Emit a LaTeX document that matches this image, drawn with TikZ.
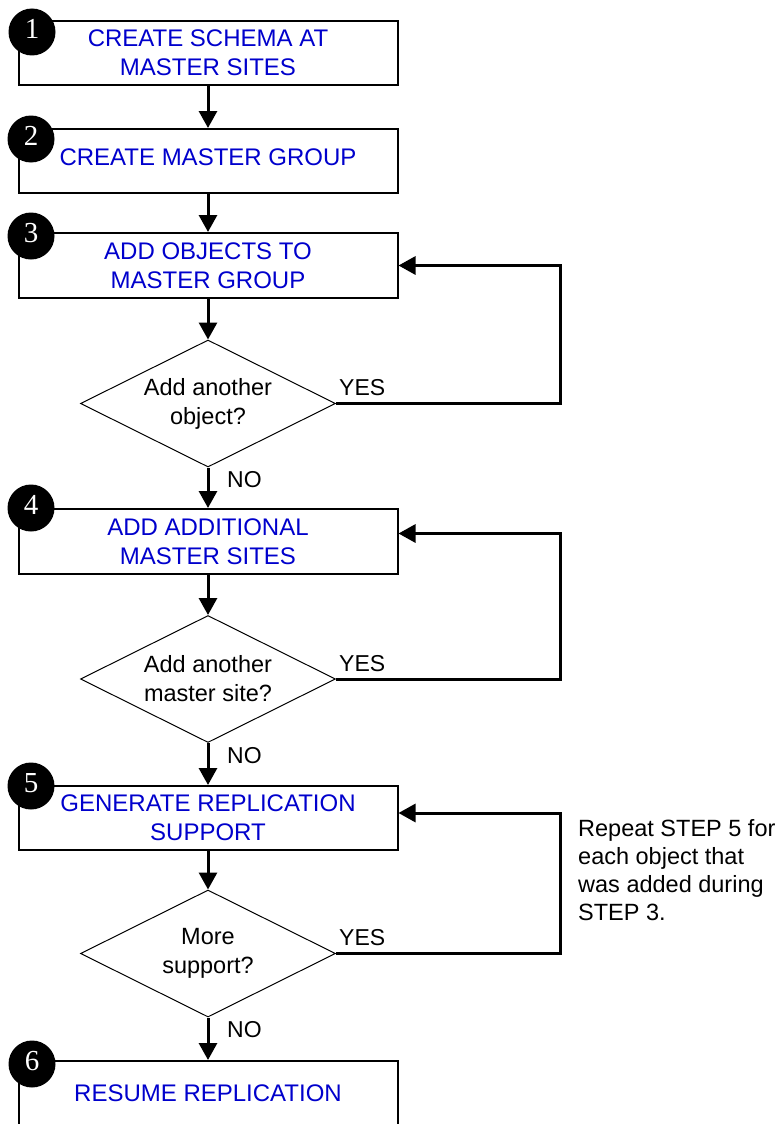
\documentclass[tikz,border=0pt]{standalone}
\usepackage{fontspec}
\setmainfont{Liberation Sans}
\newfontfamily\stepnumfont{Liberation Serif}
\usetikzlibrary{shapes.geometric,arrows.meta}
\definecolor{stepblue}{RGB}{0,0,204}
\begin{document}
\begin{tikzpicture}[x=1pt,y=-1pt,
  stepbox/.style={draw, line width=2pt, rectangle, minimum width=379pt,
    minimum height=64pt, inner sep=0pt, align=center, text=stepblue,
    font=\fontsize{24}{29}\selectfont},
  decision/.style={draw, line width=1pt, diamond, aspect=2,
    minimum width=255pt, minimum height=127pt, inner sep=0pt, align=center,
    font=\fontsize{23.5}{29}\selectfont},
  badge/.style={circle, fill=black, minimum size=47pt, inner sep=0pt,
    text=white, font=\stepnumfont\fontsize{29}{29}\selectfont, text depth=7pt},
  flow/.style={line width=3pt, line join=miter, -{Triangle[length=17pt,width=18pt]}},
  answer/.style={font=\fontsize{23}{28}\selectfont, inner sep=0pt},
  note/.style={font=\fontsize{23.5}{28}\selectfont, inner sep=0pt, align=left},
]
\useasboundingbox (0,0) rectangle (780,1124);
\clip (0,0) rectangle (780,1124);

% process steps
\node[stepbox] (b1) at (208,53) {CREATE SCHEMA AT\\MASTER SITES};
\node[stepbox, text depth=8pt] (b2) at (208,161) {CREATE MASTER GROUP};
\node[stepbox, minimum height=65pt] (b3) at (208,265.5) {ADD OBJECTS TO\\MASTER GROUP};
\node[stepbox, minimum height=65pt] (b4) at (208,541.5) {ADD ADDITIONAL\\MASTER SITES};
\node[stepbox] (b5) at (208,818) {GENERATE REPLICATION\\SUPPORT};
\node[stepbox] (b6) at (208,1093) {RESUME REPLICATION};

% decisions
\node[decision] (d1) at (208,403.5) {Add another\\object?};
\node[decision] (d2) at (208,679) {Add another\\master site?};
\node[decision] (d3) at (208,953.5) {More\\support?};

% main flow
\draw[flow] (b1.south) -- (b2.north);
\draw[flow] (b2.south) -- (b3.north);
\draw[flow] (b3.south) -- (d1.north);
\draw[flow] (d1.south) -- (b4.north);
\draw[flow] (b4.south) -- (d2.north);
\draw[flow] (d2.south) -- (b5.north);
\draw[flow] (b5.south) -- (d3.north);
\draw[flow] (d3.south) -- (b6.north);

% repeat loops
\draw[flow] (d1.east) -- ++(224,0) |- (b3.east);
\draw[flow] (d2.east) -- ++(224,0) |- ([yshift=8pt]b4.east);
\draw[flow] (d3.east) -- ++(224,0) |- ([yshift=5pt]b5.east);

% branch labels
\node[answer, anchor=base west] (y1) at ([xshift=3pt,yshift=8pt]d1.east) {YES};
\node[answer, anchor=base west] (y2) at ([xshift=3pt,yshift=8pt]d2.east) {YES};
\node[answer, anchor=base west] (y3) at ([xshift=3pt,yshift=8pt]d3.east) {YES};
\node[answer, anchor=base west] (n1) at ([xshift=19pt,yshift=-20pt]d1.south) {NO};
\node[answer, anchor=base west] (n2) at ([xshift=19pt,yshift=-20pt]d2.south) {NO};
\node[answer, anchor=base west] (n3) at ([xshift=19pt,yshift=-20pt]d3.south) {NO};

% side note
\node[note, anchor=north west] (rep) at (578,819.5)
  {Repeat STEP 5 for\\each object that\\was added during\\STEP 3.};

% step numbers
\node[badge] (c1) at (32,32) {1};
\node[badge] (c2) at (31,139) {2};
\node[badge] (c3) at (31,236) {3};
\node[badge] (c4) at (31,508) {4};
\node[badge] (c5) at (31,786) {5};
\node[badge] (c6) at (32,1064) {6};
\end{tikzpicture}
\end{document}
